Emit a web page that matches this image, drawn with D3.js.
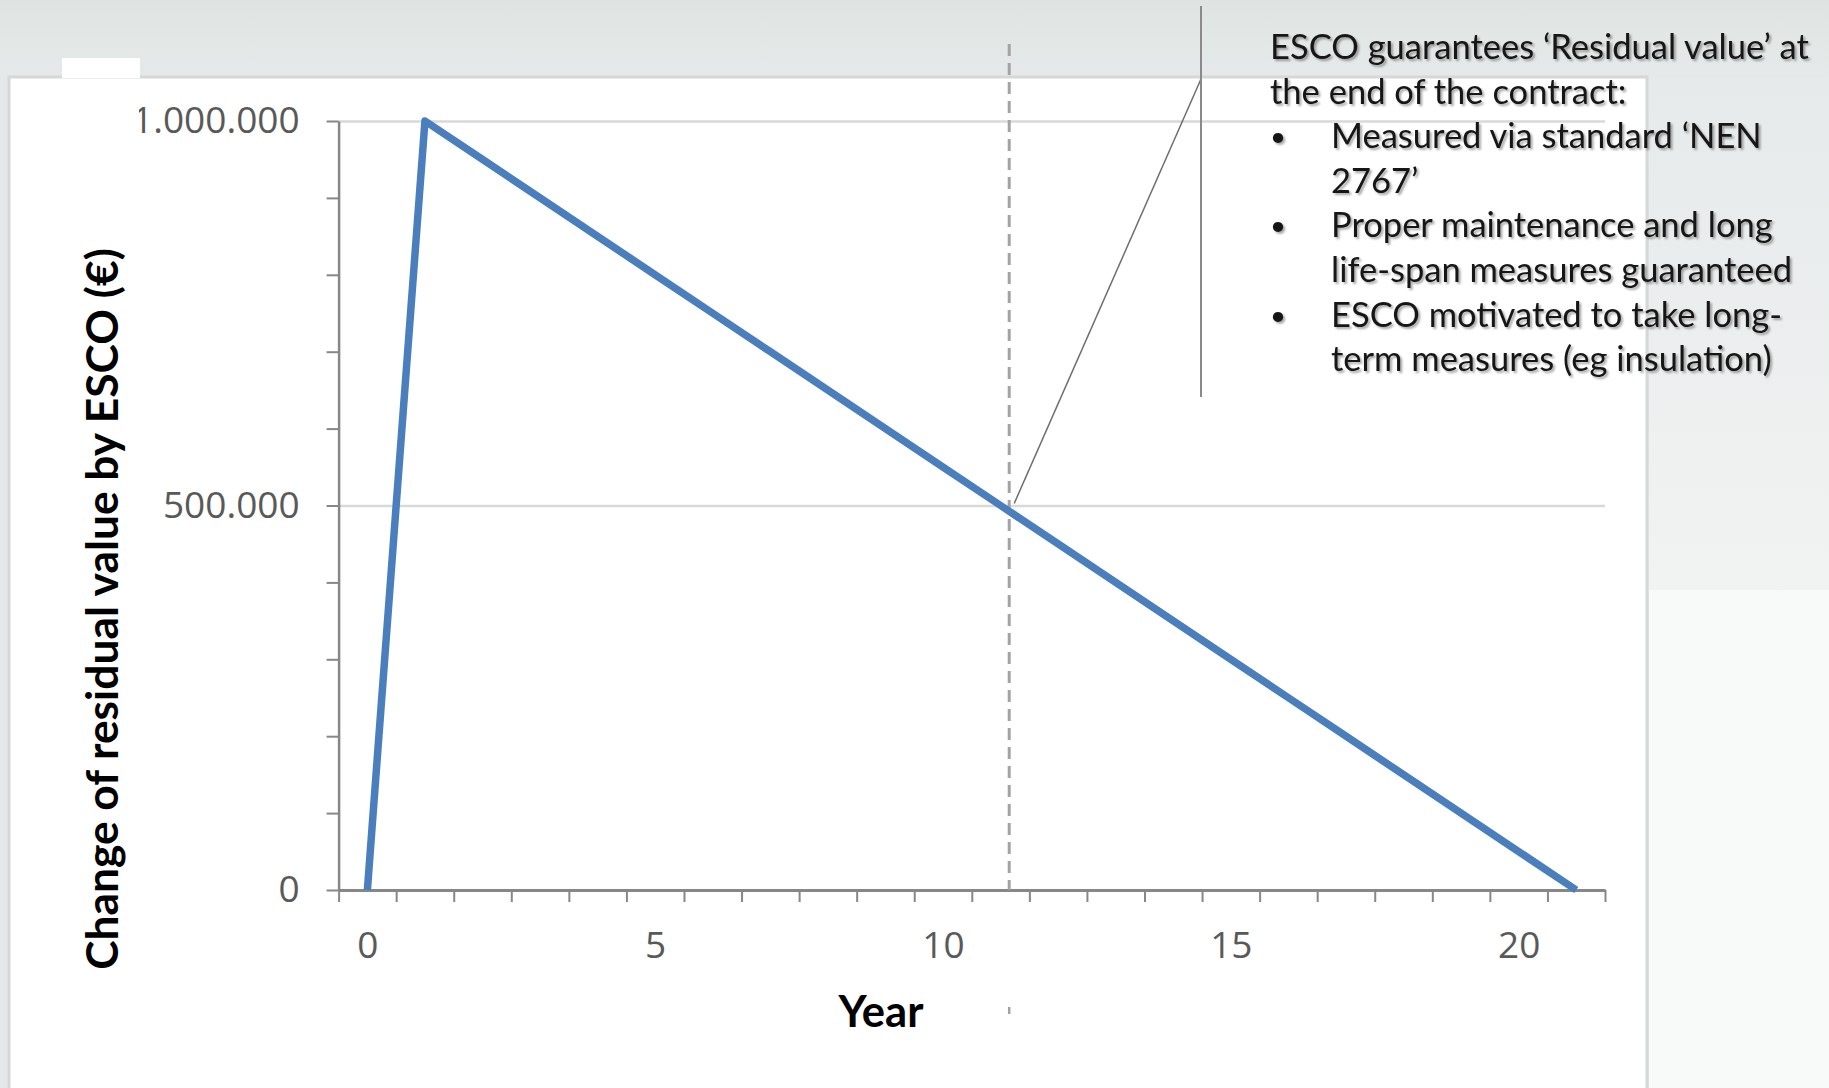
<!DOCTYPE html>
<html>
<head>
<meta charset="utf-8">
<script src="https://cdn.jsdelivr.net/npm/d3@7"></script>
<style>
  html, body { margin: 0; padding: 0; background: #e5e8e8; overflow: hidden; }
  svg { display: block; }
</style>
</head>
<body>
<div id="chart"></div>
<script>
// data
const years = [0, 1, 2, 3, 4, 5, 6, 7, 8, 9, 10, 11, 12, 13, 14, 15, 16, 17, 18, 19, 20, 21];
const residualValues = [0, 1000000, 950000, 900000, 850000, 800000, 750000, 700000, 650000, 600000,
  550000, 500000, 450000, 400000, 350000, 300000, 250000, 200000, 150000, 100000, 50000, 0];
const xLabelYears = [0, 5, 10, 15, 20];
const yLabelValues = [0, 500000, 1000000];
const yTickValues = [0, 100000, 200000, 300000, 400000, 500000, 600000, 700000, 800000, 900000, 1000000];
const markerYear = 11.15;   // dashed line where the annotation points
const noteLines = [
  { bullet: false, text: "ESCO guarantees \u2018Residual value\u2019 at" },
  { bullet: false, text: "the end of the contract:" },
  { bullet: true,  text: "Measured via standard \u2018NEN" },
  { bullet: false, text: "2767\u2019", indent: true },
  { bullet: true,  text: "Proper maintenance and long" },
  { bullet: false, text: "life-span measures guaranteed", indent: true },
  { bullet: true,  text: "ESCO motivated to take long-" },
  { bullet: false, text: "term measures (eg insulation)", indent: true }
];

const width = 1829, height = 1088;

const svg = d3.select("#chart").append("svg")
  .attr("width", width)
  .attr("height", height);

const defs = svg.append("defs");
const topGrad = defs.append("linearGradient").attr("id", "topGrad")
  .attr("x1", 0).attr("y1", 0).attr("x2", 0).attr("y2", 1);
topGrad.append("stop").attr("offset", "0%").attr("stop-color", "#dfe4e2");
topGrad.append("stop").attr("offset", "100%").attr("stop-color", "#e6e9e9");
const sideGrad = defs.append("linearGradient").attr("id", "sideGrad")
  .attr("x1", 0).attr("y1", 0).attr("x2", 0).attr("y2", 1);
sideGrad.append("stop").attr("offset", "0%").attr("stop-color", "#e7eaea");
sideGrad.append("stop").attr("offset", "100%").attr("stop-color", "#f1f3f3");
defs.append("filter").attr("id", "shadow")
  .attr("x", "-5%").attr("y", "-30%").attr("width", "115%").attr("height", "170%")
  .append("feDropShadow")
  .attr("dx", 2).attr("dy", 2).attr("stdDeviation", 1.3)
  .attr("flood-color", "#000").attr("flood-opacity", 0.35);
defs.append("clipPath").attr("id", "labelClip")
  .append("rect").attr("x", 139).attr("y", 0).attr("width", 400).attr("height", height);

// slide background
svg.append("rect").attr("x", 0).attr("y", 0).attr("width", width).attr("height", 78)
  .attr("fill", "url(#topGrad)");
svg.append("rect").attr("x", 1649).attr("y", 78).attr("width", width - 1649).attr("height", 512)
  .attr("fill", "url(#sideGrad)");
svg.append("rect").attr("x", 1649).attr("y", 590).attr("width", width - 1649).attr("height", height - 590)
  .attr("fill", "#f8f9f9");
svg.append("rect").attr("x", 9).attr("y", 77).attr("width", 1638).attr("height", height)
  .attr("fill", "#fff")
  .attr("stroke", "#d6d8d8")
  .attr("stroke-width", 3);
svg.append("rect").attr("x", 62).attr("y", 58).attr("width", 78).attr("height", 20)
  .attr("fill", "#fff");

// scales
const x = d3.scaleLinear().domain([-0.5, 21.5]).range([338.6, 1605]);
const y = d3.scaleLinear().domain([0, 1000000]).range([890, 121]);

const nl = d3.formatLocale({ decimal: ",", thousands: ".", grouping: [3], currency: ["\u20ac", ""] });
const fmt = nl.format(",");

// gridlines
svg.append("g")
  .attr("transform", `translate(${x(-0.5)},0)`)
  .call(d3.axisLeft(y).tickValues(yLabelValues.filter(d => d > 0))
    .tickSize(-(x(21.5) - x(-0.5))).tickFormat(""))
  .call(g => g.select(".domain").remove())
  .call(g => g.selectAll("line").attr("stroke", "#d9d9d9").attr("stroke-width", 2.5));

// y axis ticks
svg.append("g")
  .attr("transform", `translate(${x(-0.5)},0)`)
  .call(d3.axisLeft(y).tickValues(yTickValues).tickSize(12).tickSizeOuter(0).tickFormat(""))
  .call(g => g.select(".domain").attr("stroke", "#878787").attr("stroke-width", 2.5))
  .call(g => g.selectAll("line").attr("stroke", "#878787").attr("stroke-width", 2));

// y labels
svg.append("g")
  .attr("clip-path", "url(#labelClip)")
  .append("g")
  .attr("transform", `translate(${x(-0.5)},0)`)
  .call(d3.axisLeft(y).tickValues(yLabelValues).tickSize(0).tickPadding(39).tickFormat(fmt))
  .call(g => g.select(".domain").remove())
  .call(g => g.selectAll("text")
    .attr("font-family", "'Open Sans', sans-serif")
    .attr("font-size", 37)
    .attr("fill", "#595959"));

// x axis: ticks between categories
const boundaries = d3.range(-0.5, 22, 1);
svg.append("g")
  .attr("transform", `translate(0,${y(0)})`)
  .call(d3.axisBottom(x).tickValues(boundaries).tickSize(12).tickSizeOuter(0).tickFormat(""))
  .call(g => g.select(".domain").attr("stroke", "#878787").attr("stroke-width", 3))
  .call(g => g.selectAll("line").attr("stroke", "#878787").attr("stroke-width", 2));

svg.append("g")
  .attr("transform", `translate(0,${y(0)})`)
  .call(d3.axisBottom(x).tickValues(xLabelYears).tickSize(0).tickPadding(42).tickFormat(d3.format("d")))
  .call(g => g.select(".domain").remove())
  .call(g => g.selectAll("text")
    .attr("font-family", "'Open Sans', sans-serif")
    .attr("font-size", 37)
    .attr("fill", "#595959"));

// dashed marker
svg.append("line")
  .attr("x1", x(markerYear)).attr("x2", x(markerYear))
  .attr("y1", 44).attr("y2", y(0))
  .attr("stroke", "#a3a3a3")
  .attr("stroke-width", 3)
  .attr("stroke-dasharray", "12,7");
svg.append("line")
  .attr("x1", x(markerYear)).attr("x2", x(markerYear))
  .attr("y1", 1007).attr("y2", 1014)
  .attr("stroke", "#a3a3a3")
  .attr("stroke-width", 2.5);

// the series
const line = d3.line()
  .x((d, i) => x(years[i]))
  .y(d => y(d));

svg.append("path")
  .datum(residualValues)
  .attr("d", line)
  .attr("fill", "none")
  .attr("stroke", "#4a7ebd")
  .attr("stroke-width", 7.5)
  .attr("stroke-linejoin", "round");

// callout lines
const calloutX = 1201;
svg.append("line")
  .attr("x1", x(markerYear) + 5).attr("y1", y(500000) - 2)
  .attr("x2", calloutX).attr("y2", 79)
  .attr("stroke", "#6e6e6e").attr("stroke-width", 1.5);
svg.append("line")
  .attr("x1", calloutX).attr("y1", 6)
  .attr("x2", calloutX).attr("y2", 397)
  .attr("stroke", "#8a8a8a").attr("stroke-width", 2);

// axis titles
const yTitle = svg.append("text")
  .attr("transform", "translate(118,609) rotate(-90)")
  .attr("text-anchor", "middle")
  .attr("font-family", "Lato, sans-serif")
  .attr("font-weight", "bold")
  .attr("font-size", 38)
  .attr("fill", "#000")
  .text("Change of residual value by ESCO (\u20ac)");
const yw = yTitle.node().getComputedTextLength();
yTitle.attr("font-size", 38 * 722 / yw);

const xTitle = svg.append("text")
  .attr("x", 881).attr("y", 1027)
  .attr("text-anchor", "middle")
  .attr("font-family", "Lato, sans-serif")
  .attr("font-weight", "bold")
  .attr("font-size", 40)
  .attr("fill", "#000")
  .text("Year");
const xw = xTitle.node().getComputedTextLength();
xTitle.attr("font-size", 40 * 85 / xw);

// annotation text
const note = svg.append("g")
  .attr("font-family", "Lato, sans-serif")
  .attr("font-size", 32)
  .attr("fill", "#161616")
  .attr("filter", "url(#shadow)");

const lineY = i => 59 + i * 44.6;

const noteTexts = note.selectAll("text.line")
  .data(noteLines)
  .join("text")
  .attr("class", "line")
  .attr("x", d => (d.bullet || d.indent) ? 1331 : 1270)
  .attr("y", (d, i) => lineY(i))
  .text(d => d.text);

const firstW = noteTexts.nodes()[0].getComputedTextLength();
const noteSize = 32 * 539 / firstW;
note.attr("font-size", noteSize);

note.selectAll("text.bullet")
  .data(noteLines.filter(d => d.bullet))
  .join("text")
  .attr("class", "bullet")
  .attr("x", 1270)
  .attr("y", d => lineY(noteLines.indexOf(d)) - 2)
  .attr("font-size", noteSize * 0.8)
  .text("\u2022");
</script>
</body>
</html>
